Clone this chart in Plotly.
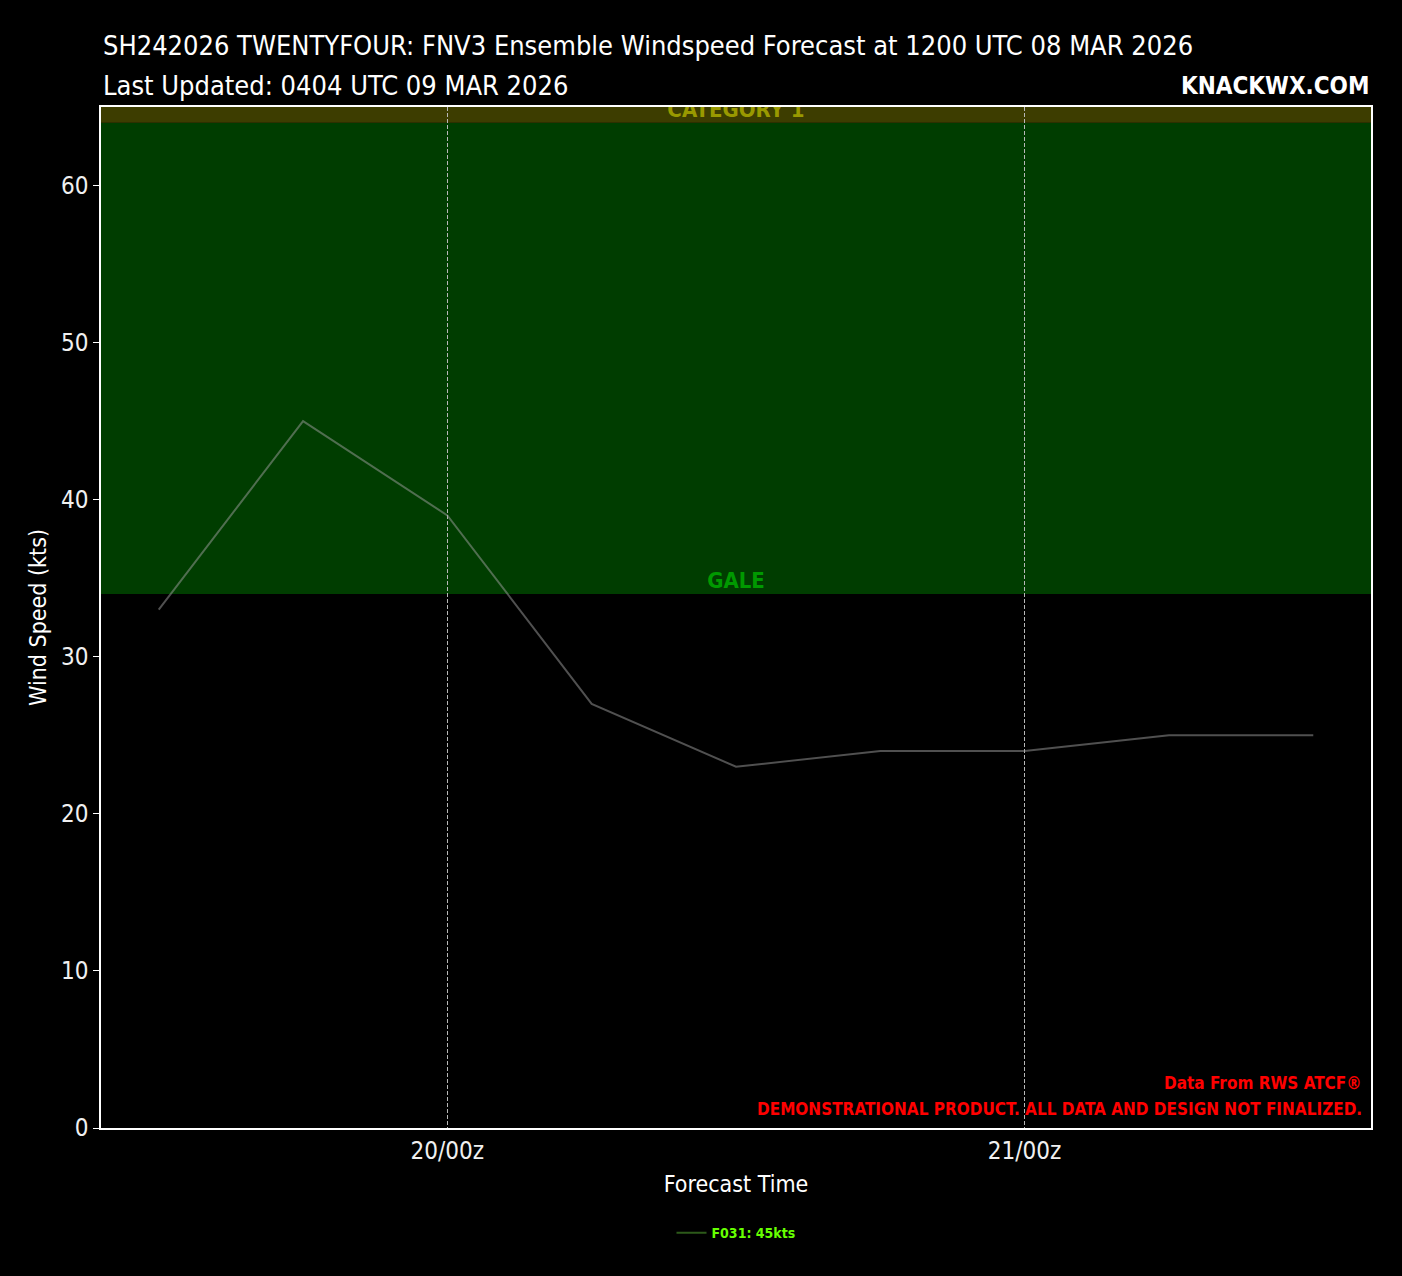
import plotly.graph_objects as go
from datetime import datetime

# ---- data ----
times = ["2026-03-19 12:00", "2026-03-19 18:00", "2026-03-20 00:00", "2026-03-20 06:00",
         "2026-03-20 12:00", "2026-03-20 18:00", "2026-03-21 00:00", "2026-03-21 06:00",
         "2026-03-21 12:00"]
wind_f031 = [33, 45, 39, 27, 23, 24, 24, 25, 25]
member_label = "F031: 45kts"
tick_vals = ["2026-03-20 00:00", "2026-03-21 00:00"]
tick_text = ["20/00z", "21/00z"]
y_ticks = [0, 10, 20, 30, 40, 50, 60]
gale_band = [34, 64]
cat1_band = [64, 83]

FONT = "DejaVu Sans Condensed, sans-serif"

t0 = datetime.fromisoformat(times[0])
t1 = datetime.fromisoformat(times[-1])
pad = (t1 - t0) * 0.05
x_range = [t0 - pad, t1 + pad]
x_mid = t0 + (t1 - t0) / 2

fig = go.Figure()

# bands
fig.add_shape(type="rect", xref="paper", x0=0, x1=1, yref="y", y0=gale_band[0], y1=gale_band[1],
              fillcolor="#003d00", line_width=0, layer="below")
fig.add_shape(type="rect", xref="paper", x0=0, x1=1, yref="y", y0=cat1_band[0], y1=cat1_band[1],
              fillcolor="#3d3d00", line_width=0, layer="below")

# band labels (as text traces so they clip at plot edge)
fig.add_trace(go.Scatter(x=[x_mid, x_mid], y=[gale_band[0], cat1_band[0]], mode="text",
                         text=["GALE", "CATEGORY 1"], textposition="top center",
                         textfont=dict(family=FONT, size=22, color=["#009900", "#999900"], weight="bold"),
                         showlegend=False, hoverinfo="skip", cliponaxis=True))

# member line
fig.add_trace(go.Scatter(x=times, y=wind_f031, mode="lines",
                         line=dict(color="rgba(160,160,160,0.5)", width=2),
                         showlegend=False))
# legend entry
fig.add_trace(go.Scatter(x=[None], y=[None], mode="lines", name=member_label,
                         line=dict(color="#2d5a1a", width=2), showlegend=True))

fig.update_layout(
    width=1402, height=1276,
    paper_bgcolor="black", plot_bgcolor="black",
    margin=dict(l=101, r=31, t=107, b=148),
    font=dict(family=FONT, color="white"),
    showlegend=True,
    legend=dict(orientation="h", x=0.5, xanchor="center", y=-0.103, yanchor="middle",
                font=dict(family=FONT, size=14, color="#66ff00", weight="bold"),
                bgcolor="rgba(0,0,0,0)"),
    xaxis=dict(range=x_range, type="date", tickvals=tick_vals, ticktext=tick_text,
               showgrid=True, gridcolor="#b8b8b8", griddash="4px,2px", gridwidth=1,
               showline=True, linecolor="white", linewidth=1.5, mirror=True,
               ticks="", tickfont=dict(family=FONT, size=24, color="#f0f0f0"),
               title=dict(text="Forecast Time", font=dict(family=FONT, size=23, color="white"), standoff=12),
               zeroline=False),
    yaxis=dict(range=[0, 65], tickvals=y_ticks, showgrid=False,
               showline=True, linecolor="white", linewidth=1.5, mirror=True,
               ticks="outside", ticklen=6, tickcolor="white",
               tickfont=dict(family=FONT, size=24, color="#f0f0f0"),
               title=dict(text="Wind Speed (kts)", font=dict(family=FONT, size=23, color="white"), standoff=8),
               zeroline=False),
)

annotations = [
    dict(text="SH242026 TWENTYFOUR: FNV3 Ensemble Windspeed Forecast at 1200 UTC 08 MAR 2026",
         xref="paper", yref="paper", x=0, y=1.0607, xanchor="left", yanchor="middle", showarrow=False,
         font=dict(family=FONT, size=27, color="white")),
    dict(text="Last Updated: 0404 UTC 09 MAR 2026",
         xref="paper", yref="paper", x=0, y=1.0215, xanchor="left", yanchor="middle", showarrow=False,
         font=dict(family=FONT, size=27, color="white")),
    dict(text="KNACKWX.COM",
         xref="paper", yref="paper", x=1, y=1.0205, xanchor="right", yanchor="middle", showarrow=False,
         font=dict(family=FONT, size=24, color="white", weight="bold")),
    dict(text="Data From RWS ATCF®",
         xref="paper", yref="paper", x=0.9945, y=0.0441, xanchor="right", yanchor="middle", showarrow=False,
         font=dict(family=FONT, size=17, color="#ff0000", weight="bold")),
    dict(text="DEMONSTRATIONAL PRODUCT. ALL DATA AND DESIGN NOT FINALIZED.",
         xref="paper", yref="paper", x=0.9945, y=0.0186, xanchor="right", yanchor="middle", showarrow=False,
         font=dict(family=FONT, size=17, color="#ff0000", weight="bold")),
]
fig.update_layout(annotations=annotations)

fig.write_html("out.html", config={"displayModeBar": False},
               post_script="document.body.style.margin='0';document.body.style.background='black';"
                           "document.body.style.overflow='hidden';")
